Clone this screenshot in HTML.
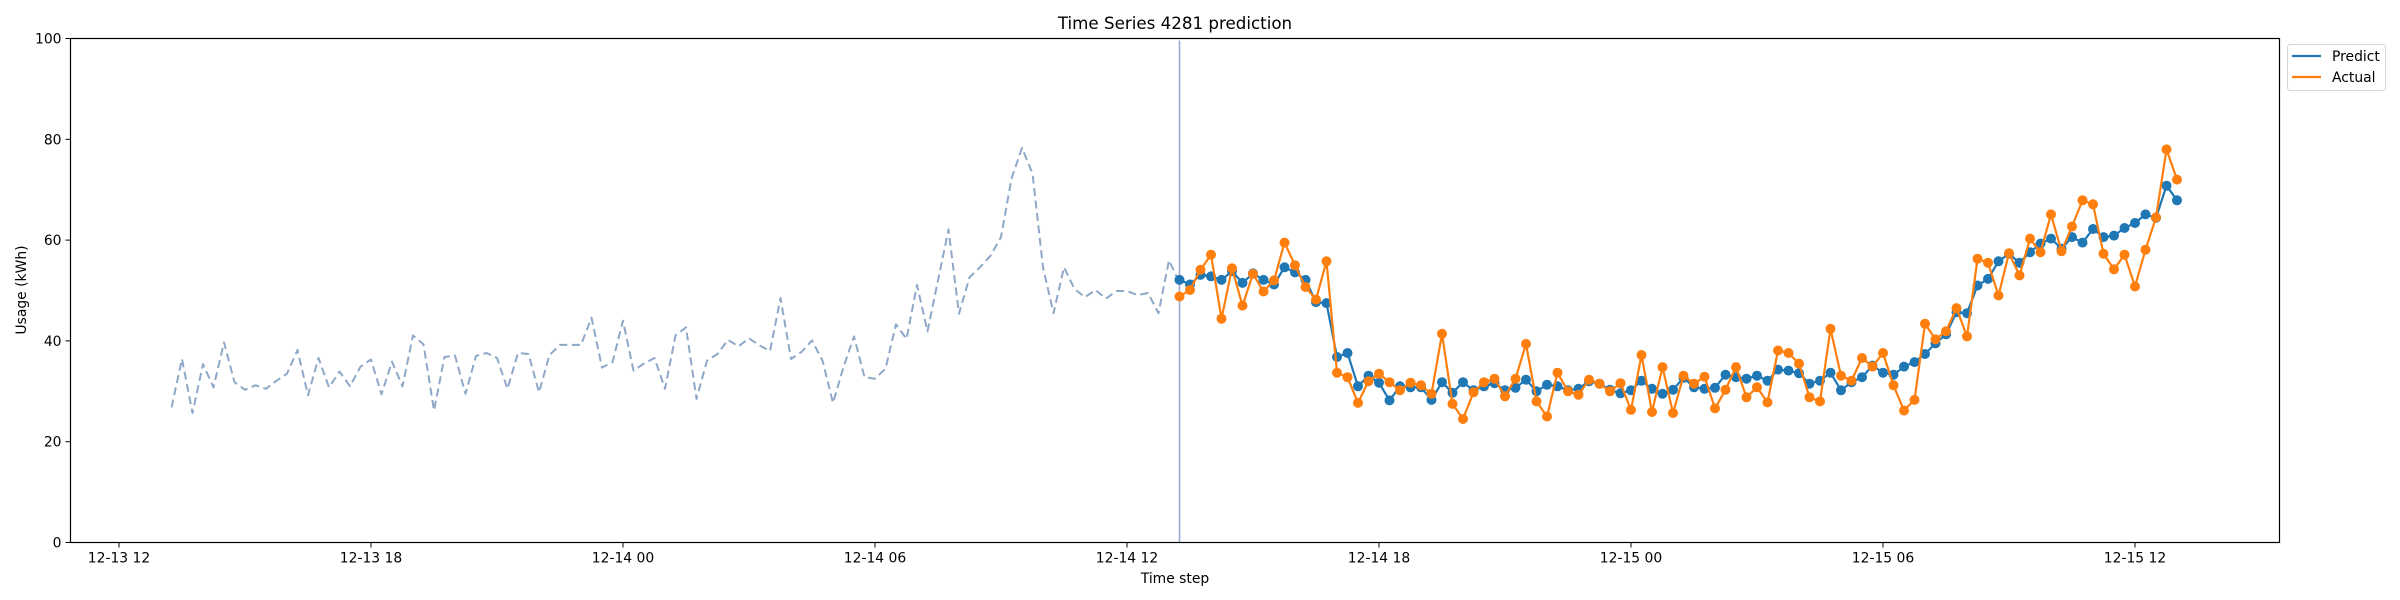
<!DOCTYPE html>
<html><head><meta charset="utf-8"><style>
html,body{margin:0;padding:0;background:#fff;}
svg{display:block;font-family:"DejaVu Sans","Liberation Sans",sans-serif;}
</style></head><body>
<svg id="chart" width="2400" height="600" viewBox="0 0 2400 600" xmlns="http://www.w3.org/2000/svg">
<defs><clipPath id="clip"><rect x="70.5" y="38.5" width="2209" height="504"/></clipPath></defs>
<rect x="0" y="0" width="2400" height="600" fill="#fff"/>
<text x="1175" y="29" font-size="16.7" text-anchor="middle" fill="#000">Time Series 4281 prediction</text>
<g id="plot" clip-path="url(#clip)"></g>
<rect x="70.5" y="38.5" width="2209" height="504" fill="none" stroke="#000" stroke-width="1.2"/>
<g id="axes"></g>
<text x="1175" y="583" font-size="13.9" text-anchor="middle" fill="#000">Time step</text>
<text x="0" y="0" font-size="13.9" text-anchor="middle" fill="#000" transform="translate(26,290) rotate(-90)">Usage (kWh)</text>
<g>
<rect x="2287.5" y="44.5" width="98" height="46" rx="3" fill="#fff" stroke="#d6d6d6" stroke-width="1"/>
<line x1="2292" y1="56" x2="2321" y2="56" stroke="#1f77b4" stroke-width="2.2"/>
<text x="2332" y="61" font-size="13.9" fill="#000">Predict</text>
<line x1="2292" y1="77" x2="2321" y2="77" stroke="#ff7f0e" stroke-width="2.2"/>
<text x="2332" y="82" font-size="13.9" fill="#000">Actual</text>
</g>
</svg>
<script>
// ---- data ----
const historyStartHour = 13.25; // hours from 12-13 00:00 (12-13 13:15)
const predStartHour = 37.25;    // 12-14 13:15
const stepHours = 0.25;
const historyValues = [26.8,36.4,25.7,35.4,30.8,39.7,31.8,30.3,31.2,30.5,32.1,33.5,38.2,29.2,36.6,30.8,33.9,31.0,34.9,36.3,29.4,35.9,31.0,41.1,39.3,26.2,36.8,37.1,29.5,37.0,37.6,36.6,30.5,
37.6,37.4,29.8,37.2,39.2,39.2,39.2,44.6,34.7,35.8,44.0,34.1,35.5,36.6,30.5,41.1,42.7,28.5,36.1,37.4,40.2,38.9,40.5,39.1,38.0,48.5,36.4,37.8,40.1,36.1,27.7,
34.8,40.9,32.8,32.5,34.5,43.3,40.4,51.1,41.9,52.0,62.1,45.4,52.6,54.6,56.9,60.6,72.2,78.3,73.2,54.6,45.5,54.6,50.3,48.7,50.1,48.4,49.9,49.9,49.1,49.5,45.5,56.0,51.5];
const predictValues = [52.1,51.2,53.1,52.8,52.1,53.8,51.5,53.4,52.1,51.2,54.6,53.6,52.1,47.7,47.5,36.8,37.6,31.0,33.1,31.7,28.2,31.0,30.8,30.8,28.3,31.8,29.7,31.8,30.2,31.0,31.6,30.2,30.7,
32.3,30.0,31.3,31.0,30.2,30.5,32.0,31.5,30.3,29.6,30.2,32.1,30.5,29.5,30.3,32.7,30.8,30.5,30.7,33.3,32.8,32.5,33.1,32.1,34.3,34.1,33.6,31.5,32.1,33.7,30.2,31.8,
32.8,35.1,33.7,33.3,34.9,35.8,37.4,39.5,41.3,45.7,45.5,51.0,52.3,55.8,57.3,55.5,57.6,59.3,60.3,58.3,60.6,59.5,62.2,60.6,60.9,62.4,63.4,65.1,64.4,70.8,67.9];
const actualValues = [48.8,50.1,54.1,57.1,44.4,54.4,47.0,53.3,49.8,52.0,59.5,55.0,50.7,48.2,55.8,33.7,32.8,27.7,32.0,33.5,31.8,30.2,31.7,31.2,29.5,41.4,27.5,24.5,29.8,31.8,32.5,29.0,32.5,
39.4,28.0,25.0,33.7,30.0,29.3,32.3,31.5,30.0,31.6,26.3,37.2,25.9,34.8,25.7,33.1,31.5,32.9,26.6,30.3,34.8,28.8,30.8,27.8,38.1,37.6,35.5,28.8,28.0,42.4,33.1,32.1,
36.6,34.9,37.6,31.2,26.2,28.3,43.4,40.3,41.9,46.5,40.9,56.3,55.5,49.0,57.4,53.0,60.3,57.6,65.1,57.8,62.7,67.9,67.1,57.3,54.2,57.1,50.8,58.1,64.5,78.0,72.0];
const xTickHours = [12,18,24,30,36,42,48,54,60];
const xTickLabels = ["12-13 12","12-13 18","12-14 00","12-14 06","12-14 12","12-14 18","12-15 00","12-15 06","12-15 12"];
const yTicks = [0,20,40,60,80,100];

// ---- axes functions ----
const AX_L=70.5, AX_R=2279.5, AX_T=38.5, AX_B=542.5;
function xScale(h){ return 119 + (h-12)*42; }
function yScale(v){ return AX_B - v*(AX_B-AX_T)/100; }
const NS="http://www.w3.org/2000/svg";
function mk(tag, attrs){ const e=document.createElementNS(NS,tag); for(const k in attrs) e.setAttribute(k,attrs[k]); return e; }

const plot=document.getElementById('plot');
const axes=document.getElementById('axes');

let hp = historyValues.map((v,i)=>xScale(historyStartHour+i*stepHours).toFixed(1)+','+yScale(v).toFixed(1)).join(' ');
const hl = mk('polyline',{points:hp,fill:'none',stroke:'#8fa8c8','stroke-width':2,'stroke-dasharray':'8,4.5','stroke-linejoin':'round'});


plot.appendChild(hl);

const vx = xScale(predStartHour);
const vl = mk('line',{x1:vx,y1:AX_T+2,x2:vx,y2:AX_B,stroke:'#9aaad0','stroke-width':1.6});


plot.appendChild(vl);

function series(vals,color,name){
  const g = mk('g',{});
  
  
  const pts = vals.map((v,i)=>xScale(predStartHour+i*stepHours).toFixed(1)+','+yScale(v).toFixed(1)).join(' ');
  const pl = mk('polyline',{points:pts,fill:'none',stroke:color,'stroke-width':2.2,'stroke-linejoin':'round'});
  
  
  g.appendChild(pl);
  vals.forEach((v,i)=>{
    const c = mk('circle',{cx:xScale(predStartHour+i*stepHours).toFixed(1),cy:yScale(v).toFixed(1),r:5,fill:color});
    
    
    g.appendChild(c);
  });
  plot.appendChild(g);
}
series(predictValues,'#1f77b4','predict');
series(actualValues,'#ff7f0e','actual');

xTickHours.forEach((h,i)=>{
  const x = xScale(h);
  const t = mk('line',{x1:x,y1:AX_B,x2:x,y2:AX_B+5,stroke:'#000','stroke-width':1});
  
  
  axes.appendChild(t);
  const lb = mk('text',{x:x,y:AX_B+20,'font-size':13.9,'text-anchor':'middle',fill:'#000'});
  lb.textContent = xTickLabels[i];
  
  
  axes.appendChild(lb);
});
yTicks.forEach(v=>{
  const y = yScale(v);
  const t = mk('line',{x1:AX_L-5,y1:y,x2:AX_L,y2:y,stroke:'#000','stroke-width':1});
  
  
  axes.appendChild(t);
  const lb = mk('text',{x:AX_L-9,y:y+5,'font-size':13.9,'text-anchor':'end',fill:'#000'});
  lb.textContent = String(v);
  
  
  axes.appendChild(lb);
});
</script>
</body></html>
